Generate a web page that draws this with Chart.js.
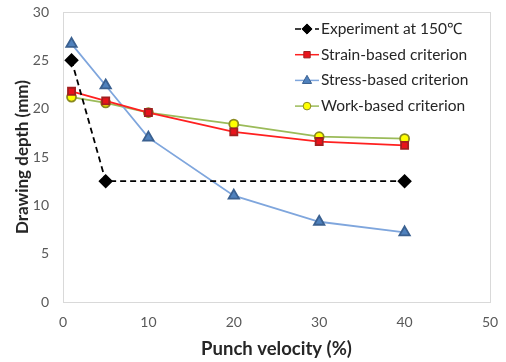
<!DOCTYPE html>
<html><head><meta charset="utf-8">
<script src="https://cdn.jsdelivr.net/npm/chart.js@4"></script>
<style>html,body{margin:0;padding:0;background:#fff;}#wrap{width:506px;height:362px;}</style>
</head><body><div id="wrap"><canvas id="c" width="506" height="362"></canvas></div>
<script>
const seriesLabels = ['Experiment at 150\u2103','Strain-based criterion','Stress-based criterion','Work-based criterion'];
const expX = [1, 5, 40];
const expY = [25, 12.5, 12.5];
const velX = [1, 5, 10, 20, 30, 40];
const strainY = [21.8, 20.8, 19.6, 17.6, 16.6, 16.2];
const stressY = [26.7, 22.4, 17.0, 11.0, 8.3, 7.2];
const workY = [21.2, 20.6, 19.6, 18.4, 17.1, 16.9];
const xTicks = [0, 10, 20, 30, 40, 50];
const yTicks = [0, 5, 10, 15, 20, 25, 30];
const xTitle = 'Punch velocity (%)';
const yTitle = 'Drawing depth (mm)';

const pts = (xs, ys) => xs.map((x, i) => ({x, y: ys[i]}));
const FONT = 'Lato, "Open Sans", sans-serif';

const frame = {
  id: 'frame',
  beforeDatasetsDraw(chart) {
    const {ctx, chartArea: a} = chart;
    ctx.save();
    ctx.strokeStyle = '#d9d9d9';
    ctx.lineWidth = 1;
    ctx.strokeRect(Math.round(a.left) + 0.5, Math.round(a.top) + 0.5, Math.round(a.right - a.left), Math.round(a.bottom - a.top));
    ctx.restore();
  }
};

function drawMarker(ctx, style, r, x, y) {
  if (style === 'rectRot') { ctx.moveTo(x, y - r); ctx.lineTo(x + r, y); ctx.lineTo(x, y + r); ctx.lineTo(x - r, y); ctx.closePath(); }
  else if (style === 'rect') { const s = r * 0.75; ctx.rect(x - s, y - s, 2 * s, 2 * s); }
  else if (style === 'triangle') { ctx.moveTo(x, y - r); ctx.lineTo(x + r * 0.9, y + r * 0.6); ctx.lineTo(x - r * 0.9, y + r * 0.6); ctx.closePath(); }
  else { ctx.arc(x, y, r, 0, Math.PI * 2); }
}

const legendIn = {
  id: 'legendIn',
  afterDraw(chart) {
    const {ctx, chartArea: a} = chart;
    ctx.save();
    const x0 = a.left + 232, y0 = a.top + 17, dy = 25.7;
    chart.data.datasets.forEach((ds, i) => {
      const y = y0 + i * dy;
      ctx.strokeStyle = ds.borderColor;
      ctx.lineWidth = 1.5;
      ctx.setLineDash(ds.borderDash || []);
      ctx.beginPath(); ctx.moveTo(x0, y); ctx.lineTo(x0 + 24, y); ctx.stroke();
      ctx.setLineDash([]);
      ctx.fillStyle = ds.pointBackgroundColor;
      ctx.strokeStyle = ds.pointBorderColor;
      ctx.lineWidth = 1;
      ctx.beginPath();
      drawMarker(ctx, ds.pointStyle, ds.pointRadius * 0.85, x0 + 12, y);
      ctx.fill(); ctx.stroke();
      ctx.fillStyle = '#262626';
      ctx.font = '15.5px ' + FONT;
      ctx.textBaseline = 'middle';
      ctx.textAlign = 'left';
      ctx.fillText(ds.label, x0 + 26, y);
    });
    ctx.restore();
  }
};

new Chart(document.getElementById('c'), {
  type: 'line',
  data: {
    datasets: [
      {label: seriesLabels[0], data: pts(expX, expY), borderColor: '#000', borderWidth: 1.8, borderDash: [6, 4],
       pointStyle: 'rectRot', pointRadius: 6, pointBackgroundColor: '#000', pointBorderColor: '#000'},
      {label: seriesLabels[1], data: pts(velX, strainY), borderColor: '#ff2020', borderWidth: 1.8,
       pointStyle: 'rect', pointRadius: 5, pointBackgroundColor: '#e8131b', pointBorderColor: '#a02020'},
      {label: seriesLabels[2], data: pts(velX, stressY), borderColor: '#7fa6dd', borderWidth: 1.8,
       pointStyle: 'triangle', pointRadius: 6, pointBackgroundColor: '#4f81bd', pointBorderColor: '#3a6090'},
      {label: seriesLabels[3], data: pts(velX, workY), borderColor: '#9bbb59', borderWidth: 1.8,
       pointStyle: 'circle', pointRadius: 4.5, pointBackgroundColor: '#ffff00', pointBorderColor: '#8a8a20'}
    ]
  },
  options: {
    responsive: false, animation: false,
    layout: {padding: {top: 12, right: 16, left: 0, bottom: 0}},
    plugins: {legend: {display: false}, tooltip: {enabled: false}},
    elements: {line: {tension: 0}, point: {borderWidth: 1}},
    scales: {
      x: {
        type: 'linear', min: 0, max: 50,
        afterBuildTicks: s => { s.ticks = xTicks.map(v => ({value: v})); },
        afterFit: s => { s.height = 60; s.paddingLeft = 0; s.paddingRight = 0; },
        grid: {display: false, drawTicks: false},
        border: {display: true, color: '#d9d9d9'},
        ticks: {color: '#595959', font: {family: FONT, size: 14}, padding: 12},
        title: {display: true, text: xTitle, color: '#262626', font: {family: FONT, size: 18.5, weight: 'bold'}, padding: {top: 0, bottom: 2}}
      },
      y: {
        type: 'linear', min: 0, max: 30,
        afterBuildTicks: s => { s.ticks = yTicks.map(v => ({value: v})); },
        afterFit: s => { s.width = 63; s.paddingTop = 0; s.paddingBottom = 0; },
        grid: {display: false, drawTicks: false},
        border: {display: true, color: '#d9d9d9'},
        ticks: {color: '#595959', font: {family: FONT, size: 14}, padding: 14},
        title: {display: true, text: yTitle, color: '#262626', font: {family: FONT, size: 17, weight: 'bold'}, padding: {top: 12, bottom: 0}}
      }
    }
  },
  plugins: [frame, legendIn]
});
</script></body></html>
